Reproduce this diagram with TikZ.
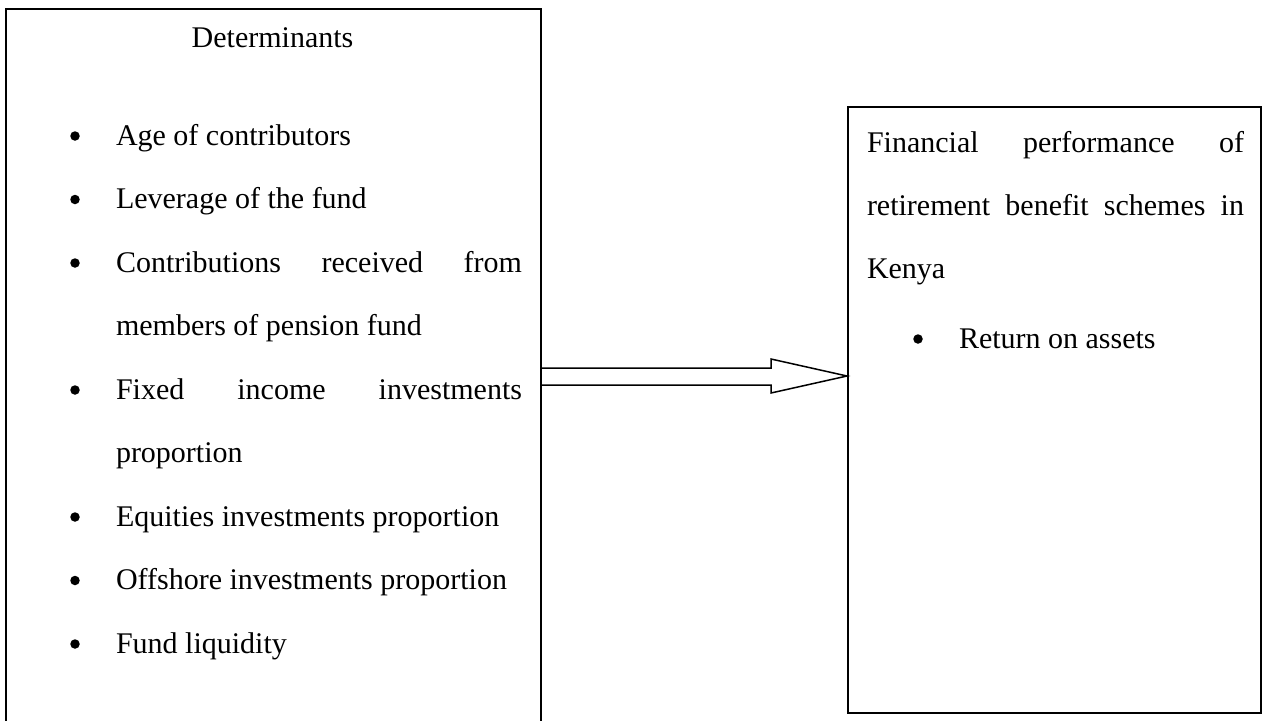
\documentclass[tikz,border=0pt]{standalone}
\usepackage{fontspec}
\setmainfont{Liberation Serif}
\usetikzlibrary{calc}
\begin{document}
\begin{tikzpicture}[x=0.4pt, y=-0.4pt, line width=0.8pt,
        txt/.style={anchor=base west, inner sep=0pt, font=\fontsize{12}{14}\selectfont},
        bulletdot/.style={circle, fill, inner sep=0pt, minimum size=3.8pt},
        box/.style={draw, anchor=north west, inner sep=0pt}]
            \useasboundingbox (0,0) rectangle (1262,721);
            \clip (0,0) rectangle (1262,721);
            % the two boxes
            \node[box, minimum width=214pt, minimum height=294pt] at (5,8) (det) {};
            \node[box, minimum width=165.2pt, minimum height=242.4pt] at (847,106) (perf) {};
            % left box
            \node[txt, anchor=base] at (272.5,47) (dettitle) {Determinants};
            \node[bulletdot] at (75,136) (b1) {};
            \node[txt] at (115,145) (age) {Age of contributors};
            \node[bulletdot] at (75,199.5) (b2) {};
            \node[txt] at (115,208.5) (lev) {Leverage of the fund};
            \node[bulletdot] at (75,263) (b3) {};
            \node[txt] at (115,272) (contr) {\makebox[162.4pt][s]{Contributions received from}};
            \node[txt] at (115,335.5) (contr2) {members of pension fund};
            \node[bulletdot] at (75,390) (b4) {};
            \node[txt] at (115,399) (fixed) {\makebox[162.4pt][s]{Fixed income investments}};
            \node[txt] at (115,462.5) (fixed2) {proportion};
            \node[bulletdot] at (75,517) (b5) {};
            \node[txt] at (115,526) (equ) {Equities investments proportion};
            \node[bulletdot] at (75,580.5) (b6) {};
            \node[txt] at (115,589.5) (off) {Offshore investments proportion};
            \node[bulletdot] at (75,644) (b7) {};
            \node[txt] at (115,653) (liq) {Fund liquidity};
            % right box
            \node[txt] at (866,152) (fin) {\makebox[150.8pt][s]{Financial performance of}};
            \node[txt] at (866,215) (fin2) {\makebox[150.8pt][s]{retirement benefit schemes in}};
            \node[txt] at (866,278) (fin3) {Kenya};
            \node[bulletdot] at (918,339) (b8) {};
            \node[txt] at (958,348) (roa) {Return on assets};
            % block arrow
            \draw[fill=white, line width=0.6pt] (det.east |- 0,368) -- (771,368) -- (771,359)
                -- (perf.west |- 0,376) -- (771,393) -- (771,385) -- (det.east |- 0,385);
        \end{tikzpicture}
\end{document}
